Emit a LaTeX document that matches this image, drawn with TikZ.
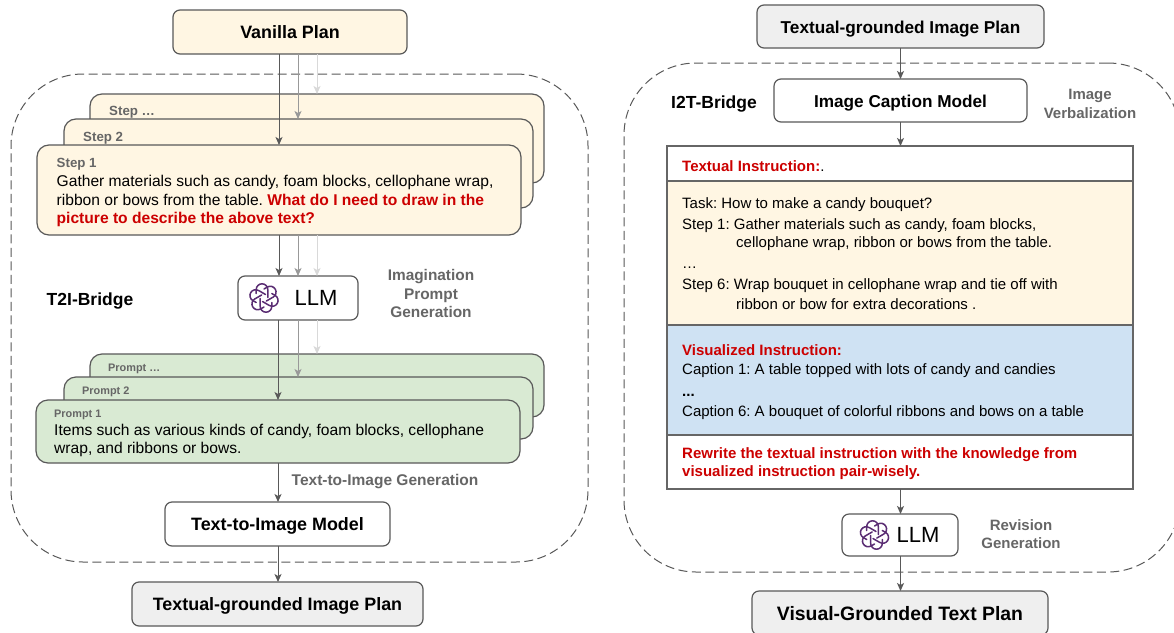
\documentclass[tikz,border=0pt]{standalone}
\usepackage{fontspec}
\setmainfont{Liberation Sans}
\usetikzlibrary{arrows.meta,positioning,calc}
\definecolor{linegray}{HTML}{595959}
\definecolor{cellgray}{HTML}{666666}
\definecolor{midgray}{HTML}{999999}
\definecolor{lightline}{HTML}{D9D9D9}
\definecolor{cream}{HTML}{FFF6E3}
\definecolor{sage}{HTML}{D9EAD3}
\definecolor{sky}{HTML}{CFE2F3}
\definecolor{pale}{HTML}{EFEFEF}
\definecolor{redtxt}{HTML}{CC0000}
\definecolor{graytxt}{HTML}{666666}
\definecolor{logopurple}{HTML}{5A2D73}
\tikzset{
  x=1pt,y=-1pt,
  box/.style={draw=linegray,line width=1.2pt,rounded corners=7pt,inner sep=0pt,outer sep=0pt,text=black},
  titlefont/.style={font=\fontsize{17.9}{20}\selectfont\bfseries,text height=13pt,text depth=0pt},
  titlesmall/.style={font=\fontsize{17.2}{20}\selectfont\bfseries,text height=13pt,text depth=0pt},
  titlelarge/.style={font=\fontsize{19.4}{22}\selectfont\bfseries,text height=14pt,text depth=0pt},
  card/.style={box,rounded corners=12pt},
  region/.style={draw=linegray,line width=1pt,dash pattern=on 9pt off 4.5pt,rounded corners=72pt,inner sep=0pt},
  cell/.style={draw=cellgray,line width=1.2pt,inner sep=0pt,outer sep=0pt},
  lbl/.style={anchor=west,inner sep=0pt,yshift=-2pt,text=graytxt,font=\fontsize{13.3}{15}\selectfont\bfseries},
  small/.style={anchor=west,inner sep=0pt,yshift=-2pt,text=graytxt,font=\fontsize{10.9}{12}\selectfont\bfseries},
  body/.style={anchor=west,inner sep=0pt,yshift=-1.5pt,align=left,font=\fontsize{15.6}{18.4}\selectfont},
  tbl/.style={anchor=west,inner sep=0pt,yshift=-1pt,align=left,font=\fontsize{15}{18.2}\selectfont},
  redbold/.style={tbl,text=redtxt,font=\fontsize{15}{18.2}\selectfont\bfseries},
  side/.style={inner sep=0pt,align=center,text=graytxt,font=\fontsize{15}{18.2}\selectfont\bfseries},
  bridge/.style={inner sep=0pt,yshift=-1.5pt,font=\fontsize{17.5}{19}\selectfont\bfseries},
  llmtxt/.style={inner sep=0pt,font=\fontsize{22}{24}\selectfont},
  arrowd/.style={draw=linegray,line width=1pt,-{Stealth[length=8pt,width=7pt,inset=2pt]}},
  arrowm/.style={arrowd,draw=midgray},
  arrowl/.style={arrowd,draw=lightline},
  oailogo/.pic={
    \foreach \k in {0,60,...,300}{
      \draw[rotate=\k,logopurple,line width=1.5pt,line cap=round]
        (-3.8,0.5) -- (-3.8,8.4) arc[start angle=180,end angle=0,radius=5.8] -- (7.8,4.5);
    }
  }
}
\begin{document}
\frenchspacing
\begin{tikzpicture}
\useasboundingbox (0,0) rectangle (1174,632);
\clip (0,0) rectangle (1174,632);
\fill[white] (0,0) rectangle (1174,632);
% column guides
\coordinate (ca) at (279,0);
\coordinate (cb) at (298,0);
\coordinate (cc) at (317,0);
\coordinate (cd) at (278,0);
\coordinate (ce) at (900.5,0);
% left regions
\node[region,minimum width=577pt,minimum height=488pt] (t2i) at (299.5,318) {};
\node[box,fill=cream,minimum width=234pt,minimum height=44pt,titlefont] (vanilla) at (290,32) {Vanilla Plan};
\node[card,fill=cream,minimum width=454pt,minimum height=89pt] (step3) at (317,138.5) {};
\node[card,fill=cream,minimum width=469pt,minimum height=89pt] (step2) at (298.5,163.5) {};
\node[card,fill=cream,minimum width=484pt,minimum height=90pt] (step1) at (279,190) {};
\node[lbl] (l3) at (109,110) {Step …};
\node[lbl] (l2) at (83,136) {Step 2};
\node[lbl] (l1) at (56.5,162) {Step 1};
\node[body] (t1) at (56.5,199.5) {Gather materials such as candy, foam blocks, cellophane wrap,\\ribbon or bows from the table. \textcolor{redtxt}{\textbf{What do I need to draw in the}}\\\textcolor{redtxt}{\textbf{picture to describe the above text?}}};
\node[bridge] (t2ilabel) at (90,300) {T2I-Bridge};
\node[box,fill=white,minimum width=120pt,minimum height=44pt] (llma) at (298,298) {};
\pic at (264,298) {oailogo};
\node[llmtxt] (llmatxt) at (316,298) {LLM};
\node[side,font=\fontsize{15.4}{18.5}\selectfont\bfseries] (imagine) at (431,293.5) {Imagination\\Prompt\\Generation};
\node[card,fill=sage,minimum width=454pt,minimum height=63pt] (prompt3) at (317,385.5) {};
\node[card,fill=sage,minimum width=469pt,minimum height=62pt] (prompt2) at (298.5,408) {};
\node[card,fill=sage,minimum width=484pt,minimum height=63pt] (prompt1) at (278,431.5) {};
\node[small] (p3) at (108,367) {Prompt …};
\node[small] (p2) at (82,390) {Prompt 2};
\node[small] (p1) at (54,413) {Prompt 1};
\node[body] (pt1) at (54,439) {Items such as various kinds of candy, foam blocks, cellophane\\wrap, and ribbons or bows.};
\node[inner sep=0pt,anchor=west,text=graytxt,font=\fontsize{15.5}{17}\selectfont\bfseries] (tig) at (291.5,482) {Text-to-Image Generation};
\node[box,fill=white,minimum width=225pt,minimum height=44pt,titlefont] (timodel) at (277.5,524) {Text-to-Image Model};
\node[box,fill=pale,minimum width=291pt,minimum height=44pt,titlefont] (tgplan) at (277.5,604) {Textual-grounded Image Plan};
% left connectors
\draw[arrowl] (vanilla.south -| cc) -- (step3.north -| cc);
\draw[arrowm] (vanilla.south -| cb) -- (step2.north -| cb);
\draw[arrowd] (vanilla.south -| ca) -- (step1.north -| ca);
\draw[arrowl] (step1.south -| cc) -- (llma.north -| cc);
\draw[arrowm] (step1.south -| cb) -- (llma.north -| cb);
\draw[arrowd] (step1.south -| ca) -- (llma.north -| ca);
\draw[arrowl] (llma.south -| cc) -- (prompt3.north -| cc);
\draw[arrowm] (llma.south -| cb) -- (prompt2.north -| cb);
\draw[arrowd] (llma.south -| cd) -- (prompt1.north -| cd);
\draw[arrowd] (prompt1.south -| cd) -- (timodel.north -| cd);
\draw[arrowd] (timodel.south -| cd) -- (tgplan.north -| cd);
% right side
\node[region,minimum width=556pt,minimum height=509pt] (i2t) at (902,317.5) {};
\node[box,fill=pale,minimum width=287pt,minimum height=43pt,titlesmall] (tgplanb) at (900.5,26.5) {Textual-grounded Image Plan};
\node[box,fill=white,minimum width=253pt,minimum height=43pt,titlesmall] (caption) at (900.5,100.5) {Image Caption Model};
\node[bridge] (i2tlabel) at (714,103) {I2T-Bridge};
\node[side] (verbal) at (1090,104) {Image\\Verbalization};
\node[cell,fill=white,minimum width=466pt,minimum height=35pt] (r1) at (900,163.5) {};
\node[cell,fill=cream,minimum width=466pt,minimum height=144pt] (r2) at (900,253) {};
\node[cell,fill=sky,minimum width=466pt,minimum height=110pt] (r3) at (900,380) {};
\node[cell,fill=white,minimum width=466pt,minimum height=54pt] (r4) at (900,462) {};
\node[redbold] (ti) at (682,165) {Textual Instruction:\textcolor{black}{\textmd{.}}};
\node[tbl] (task) at (682,204) {Task: How to make a candy bouquet?};
\node[tbl] (s1) at (682,225) {Step 1: Gather materials such as candy, foam blocks,};
\node[tbl] (s1b) at (736,243) {cellophane wrap, ribbon or bows from the table.};
\node[tbl] (dots1) at (682,267) {…};
\node[tbl] (s6) at (682,285) {Step 6: Wrap bouquet in cellophane wrap and tie off with};
\node[tbl] (s6b) at (736,303) {ribbon or bow for extra decorations .};
\node[redbold] (vi) at (682,349) {Visualized Instruction:};
\node[tbl] (c1) at (682,370) {Caption 1: A table topped with lots of candy and candies};
\node[tbl,font=\fontsize{15}{18.2}\selectfont\bfseries] (dots2) at (682,394) {...};
\node[tbl] (c6) at (682,412) {Caption 6: A bouquet of colorful ribbons and bows on a table};
\node[redbold] (rw) at (682,463) {Rewrite the textual instruction with the knowledge from\\visualized instruction pair-wisely.};
\node[box,fill=white,minimum width=116pt,minimum height=42pt] (llmb) at (900,535) {};
\pic at (874.5,535) {oailogo};
\node[llmtxt] (llmbtxt) at (918,535) {LLM};
\node[side] (revision) at (1021,534) {Revision\\Generation};
\node[box,fill=pale,minimum width=296pt,minimum height=44pt,titlelarge] (vgplan) at (900,613) {Visual-Grounded Text Plan};
% right connectors
\draw[arrowd] (tgplanb.south -| ce) -- (caption.north -| ce);
\draw[arrowd] (caption.south -| ce) -- (r1.north -| ce);
\draw[arrowd] (r4.south -| ce) -- (llmb.north -| ce);
\draw[arrowd] (llmb.south -| ce) -- (vgplan.north -| ce);
\end{tikzpicture}
\end{document}
